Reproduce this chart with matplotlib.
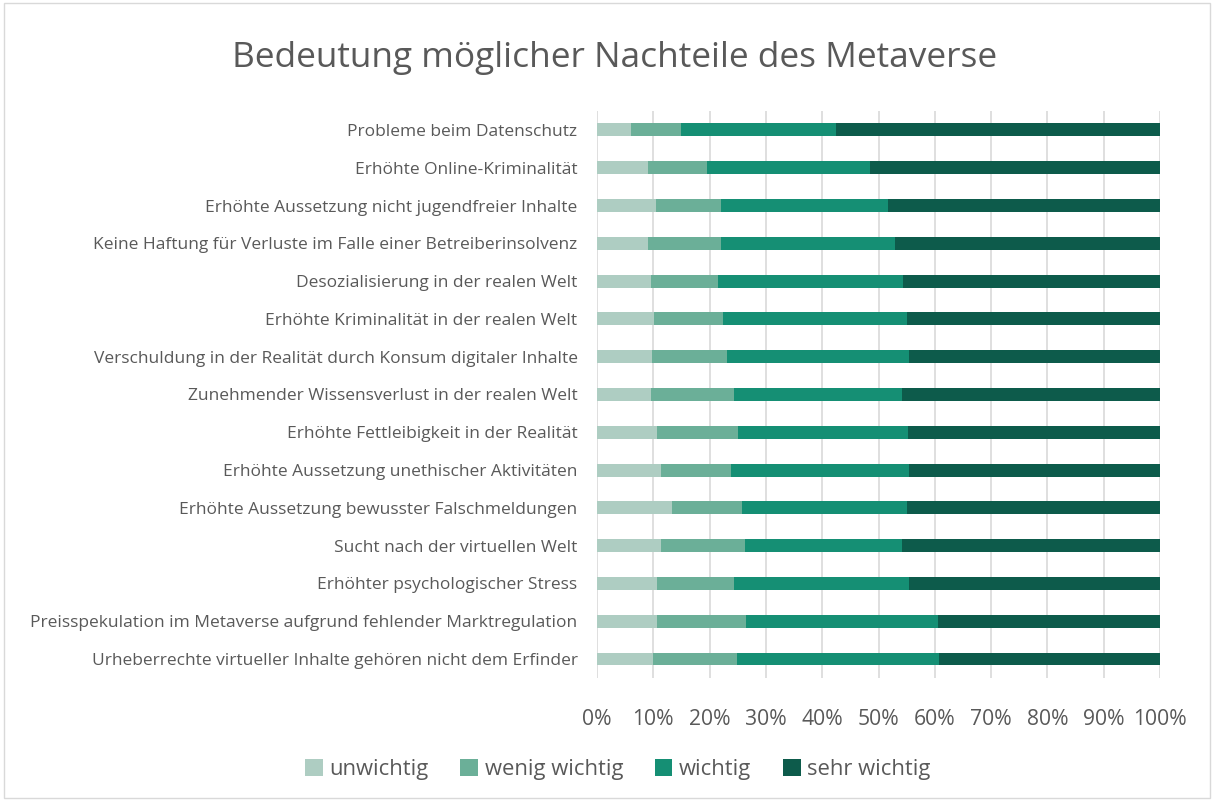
import numpy as np
import matplotlib.pyplot as plt
from matplotlib.patches import Rectangle
from matplotlib.ticker import FuncFormatter

plt.rcParams['font.family'] = ['Open Sans', 'DejaVu Sans']

categories = [
    "Probleme beim Datenschutz",
    "Erhöhte Online-Kriminalität",
    "Erhöhte Aussetzung nicht jugendfreier Inhalte",
    "Keine Haftung für Verluste im Falle einer Betreiberinsolvenz",
    "Desozialisierung in der realen Welt",
    "Erhöhte Kriminalität in der realen Welt",
    "Verschuldung in der Realität durch Konsum digitaler Inhalte",
    "Zunehmender Wissensverlust in der realen Welt",
    "Erhöhte Fettleibigkeit in der Realität",
    "Erhöhte Aussetzung unethischer Aktivitäten",
    "Erhöhte Aussetzung bewusster Falschmeldungen",
    "Sucht nach der virtuellen Welt",
    "Erhöhter psychologischer Stress",
    "Preisspekulation im Metaverse aufgrund fehlender Marktregulation",
    "Urheberrechte virtueller Inhalte gehören nicht dem Erfinder",
]

unwichtig = [6.0, 9.0, 10.5, 9.1, 9.6, 10.2, 9.8, 9.6, 10.7, 11.4, 13.3, 11.4, 10.7, 10.7, 10.0]
wenig_wichtig = [8.9, 10.5, 11.6, 12.9, 11.9, 12.1, 13.2, 14.8, 14.3, 12.4, 12.5, 14.9, 13.6, 15.7, 14.8]
wichtig = [27.6, 29.0, 29.5, 31.0, 32.9, 32.7, 32.4, 29.8, 30.2, 31.6, 29.2, 27.9, 31.2, 34.1, 35.9]
sehr_wichtig = [57.5, 51.5, 48.4, 47.0, 45.6, 45.0, 44.6, 45.8, 44.8, 44.6, 45.0, 45.8, 44.5, 39.5, 39.3]

series = [
    ("unwichtig", unwichtig, "#AECDC2"),
    ("wenig wichtig", wenig_wichtig, "#6BAF98"),
    ("wichtig", wichtig, "#158F74"),
    ("sehr wichtig", sehr_wichtig, "#0D5B4B"),
]

fig = plt.figure(figsize=(12.14, 8.01), dpi=100)
ax = fig.add_axes([0.4918, 0.1536, 0.4637, 0.7078])

# border around chart area
fig.patches.append(Rectangle((0.003, 0.004), 0.994, 0.992, transform=fig.transFigure,
                             fill=False, edgecolor="#D9D9D9", linewidth=1.0))

y = np.arange(len(categories))
data = np.array([s[1] for s in series], dtype=float)
data = data / data.sum(axis=0) * 100
left = np.zeros(len(categories))
for (name, _, color), vals in zip(series, data):
    ax.barh(y, vals, left=left, height=0.34, color=color, label=name, zorder=3)
    left += vals

ax.set_xlim(0, 100)
ax.set_ylim(len(categories) - 0.5, -0.5)
ax.set_xticks(np.arange(0, 101, 10))
ax.xaxis.set_major_formatter(FuncFormatter(lambda v, p: f"{int(v)}%"))
ax.set_yticks(y)
ax.set_yticklabels(categories)
ax.grid(axis="x", color="#D9D9D9", linewidth=1.2, zorder=0)
for s in ax.spines.values():
    s.set_visible(False)
ax.tick_params(axis="both", length=0, colors="#595959")
ax.tick_params(axis="y", labelsize=12.55, pad=14)
ax.tick_params(axis="x", labelsize=15.2, pad=22)

fig.text(0.506, 0.928, "Bedeutung möglicher Nachteile des Metaverse", ha="center", va="center",
         fontsize=25.4, color="#595959")

fig.legend(loc="center", bbox_to_anchor=(0.509, 0.039), ncol=4, frameon=False,
           fontsize=15.8, handlelength=0.8, handleheight=0.8, handletextpad=0.3,
           columnspacing=1.45, labelcolor="#595959")

fig.savefig("out.png", dpi=100)
